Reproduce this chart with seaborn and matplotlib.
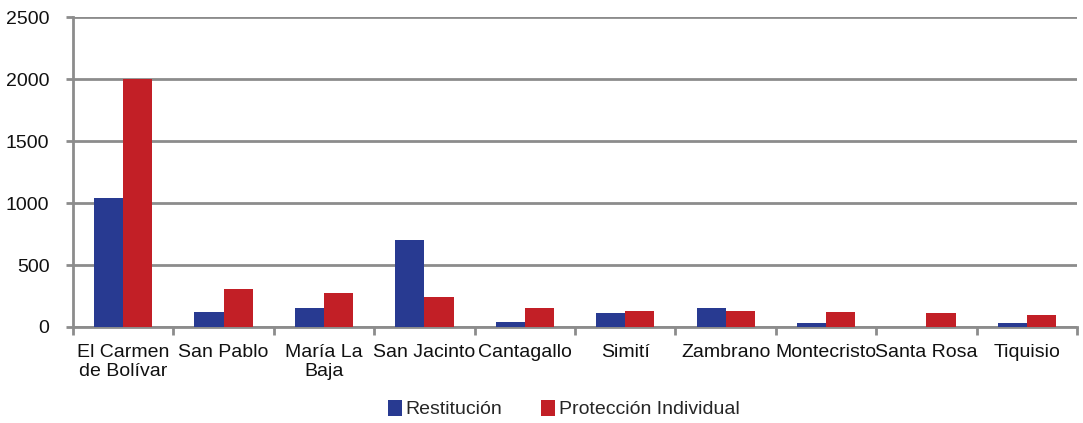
import numpy as np
import pandas as pd
import matplotlib
matplotlib.use("Agg")
import matplotlib.pyplot as plt
from matplotlib.ticker import FixedLocator
import seaborn as sns

municipios = ["El Carmen\nde Bolívar", "San Pablo", "María La\nBaja", "San Jacinto",
              "Cantagallo", "Simití", "Zambrano", "Montecristo", "Santa Rosa", "Tiquisio"]
restitucion = [1040, 120, 150, 705, 40, 110, 155, 30, 0, 35]
proteccion = [2000, 305, 275, 245, 150, 130, 130, 120, 110, 100]
series = ["Restitución", "Protección Individual"]
colores = ["#283A91", "#C21F26"]
y_ticks = [0, 500, 1000, 1500, 2000, 2500]

df = pd.DataFrame({
    "municipio": municipios * 2,
    "serie": [series[0]] * len(municipios) + [series[1]] * len(municipios),
    "valor": restitucion + proteccion,
})

sns.set_theme(style="white")
plt.rcParams["font.family"] = ["Liberation Sans", "DejaVu Sans"]

fig = plt.figure(figsize=(10.83, 4.23), dpi=100)
ax = fig.add_axes([0.0674, 0.227, 0.9271, 0.732])

grid_gray = "#8C8C8C"
sns.barplot(data=df, x="municipio", y="valor", hue="serie", order=municipios,
            hue_order=series, palette=colores, width=0.58, gap=0,
            saturation=1, edgecolor="none", ax=ax, zorder=3)

ax.set_ylim(0, 2500)
ax.set_xlim(-0.5, len(municipios) - 0.5)
ax.set_yticks(y_ticks)
ax.yaxis.grid(True, color=grid_gray, linewidth=2.0, zorder=0)
ax.set_axisbelow(True)
ax.set_xlabel("")
ax.set_ylabel("")

for side in ["top", "right"]:
    ax.spines[side].set_visible(False)
for side in ["left", "bottom"]:
    ax.spines[side].set_color(grid_gray)
    ax.spines[side].set_linewidth(2.0)

ax.tick_params(axis="y", which="major", length=5, width=2, color=grid_gray,
               labelsize=14, labelcolor="#111111", pad=12, left=True)
ax.tick_params(axis="x", which="major", length=0, labelsize=14,
               labelcolor="#111111", pad=12)
ax.xaxis.set_minor_locator(FixedLocator(np.arange(-0.5, len(municipios), 1.0)))
ax.tick_params(axis="x", which="minor", length=6, width=2, color=grid_gray,
               bottom=True, direction="out")
for lbl in ax.get_xticklabels():
    lbl.set_multialignment("center")

handles, labels = ax.get_legend_handles_labels()
ax.legend(handles, labels, loc="center", bbox_to_anchor=(0.489, -0.265),
          ncol=2, frameon=False, fontsize=14, handlelength=0.7,
          handleheight=0.9, handletextpad=0.2, columnspacing=2.0,
          borderaxespad=0)

fig.savefig("out.png", dpi=100)
